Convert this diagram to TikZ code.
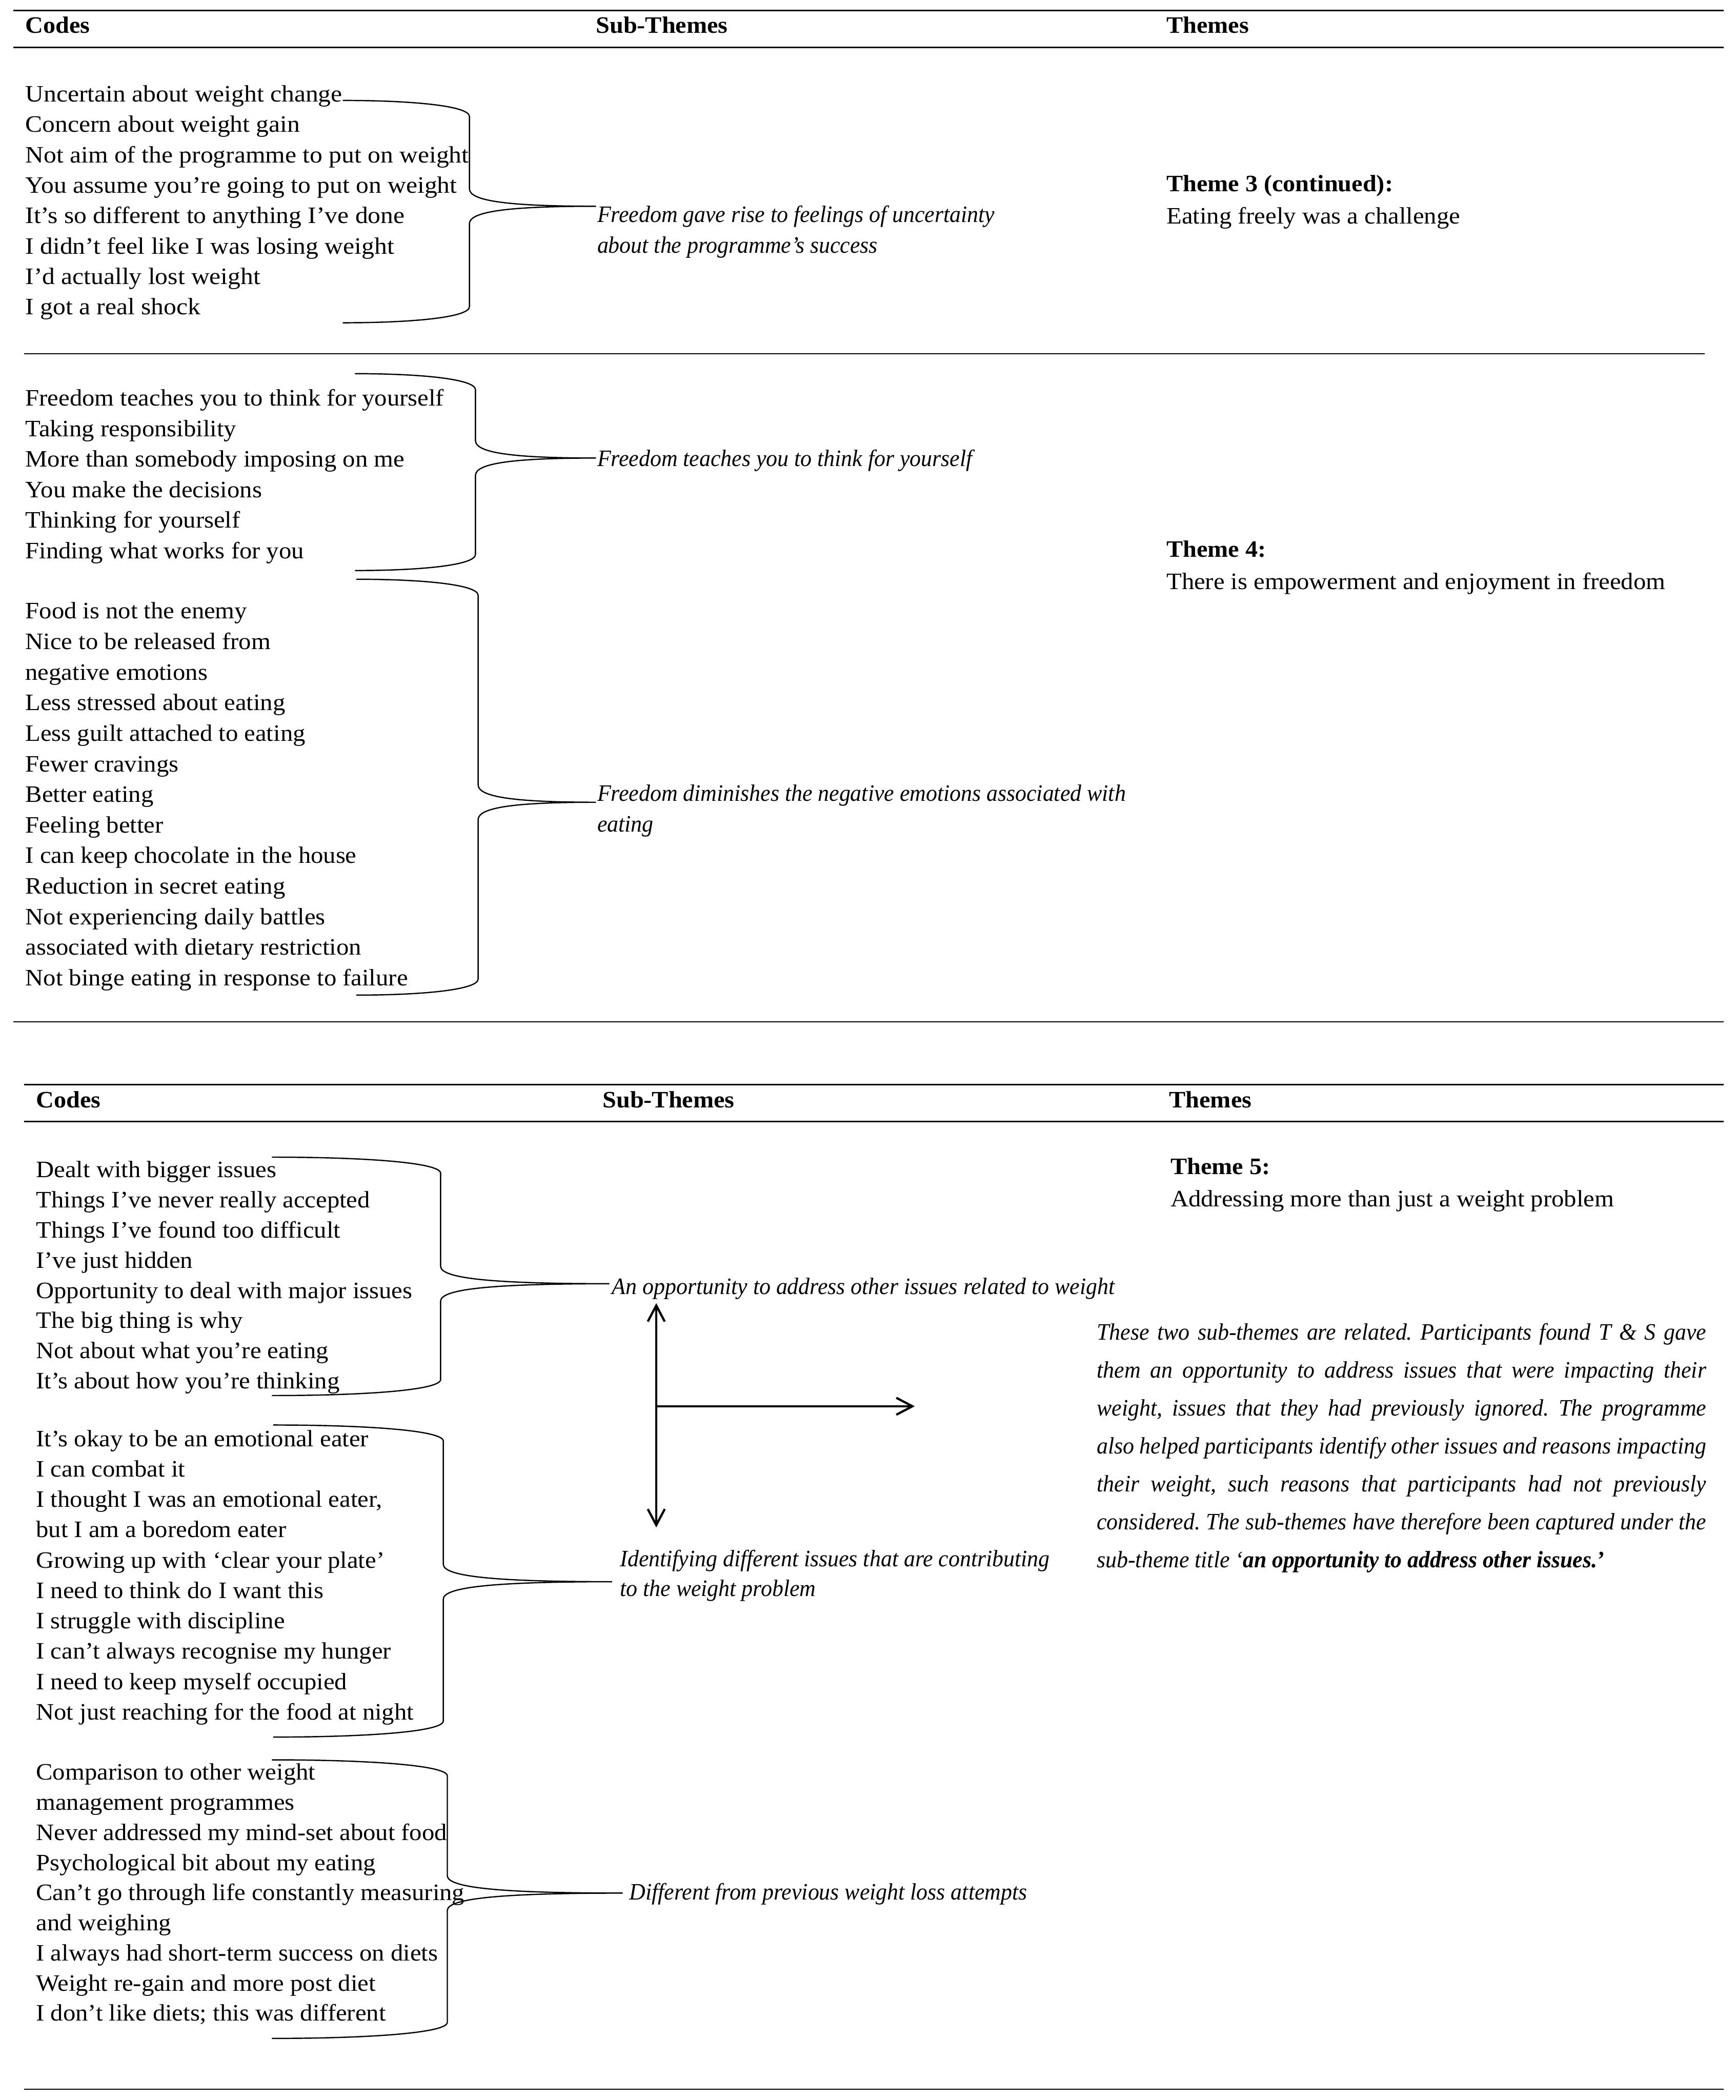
\documentclass[tikz,border=0pt]{standalone}
\usepackage{fontspec}
\setmainfont{Liberation Serif}[
  UprightFeatures={FakeStretch=1.06},
  BoldFeatures={FakeStretch=1.05},
  ItalicFeatures={FakeStretch=0.955},
  BoldItalicFeatures={FakeStretch=0.95}]
\newfontfamily\wideserif{Liberation Serif}[FakeStretch=1.08]
\frenchspacing
\usetikzlibrary{arrows.meta}
\tikzset{
  txt/.style={anchor=base west, inner sep=0pt, outer sep=0pt, font=\fontsize{15}{18}\selectfont},
  code/.style={txt},
  codewide/.style={txt, font=\fontsize{15}{18}\selectfont\wideserif},
  sub/.style={txt, font=\fontsize{15}{18}\selectfont\itshape},
  thm/.style={txt},
  thmb/.style={txt, font=\fontsize{15}{18}\selectfont\bfseries},
  hdr/.style={txt, font=\fontsize{15}{18}\selectfont\bfseries},
  para/.style={txt, font=\fontsize{15}{18}\selectfont\itshape},
  thickrule/.style={line width=1.0pt},
  thinrule/.style={line width=0.7pt},
  bracestyle/.style={line width=0.8pt},
  arr/.style={line width=1.4pt, -{Straight Barb[length=0.36cm,width=0.38cm]}},
  darr/.style={line width=1.4pt, {Straight Barb[length=0.36cm,width=0.38cm]}-{Straight Barb[length=0.36cm,width=0.38cm]}}
}
% #1 name, #2 x0, #3 ytop, #4 xv, #5 xtip, #6 ytip, #7 ybot
\newcommand\cbrace[7]{%
  \coordinate (#1top) at (#2,#3);
  \coordinate (#1tip) at (#5,#6);
  \coordinate (#1bot) at (#2,#7);
  \draw[bracestyle] (#1top)
    .. controls ({#2+0.55*(#4-#2)},#3) and (#4,{#3+4}) .. (#4,{#3+12})
    -- (#4,{#6-13})
    .. controls (#4,{#6-4}) and ({#4+0.3*(#5-#4)},#6) .. (#1tip)
    .. controls ({#4+0.3*(#5-#4)},#6) and (#4,{#6+4}) .. (#4,{#6+13})
    -- (#4,{#7-12})
    .. controls (#4,{#7-4}) and ({#2+0.55*(#4-#2)},#7) .. (#1bot);
}
\begin{document}
\begin{tikzpicture}[x=0.03cm,y=-0.03cm]
\useasboundingbox (0,0) rectangle (1296,1568);

% ---------- table 1 ----------
\draw[thickrule] (10,8) -- (1287,8);
\node[hdr] (h1a) at (19,24.5) {Codes};
\node[hdr] (h1b) at (445,24.5) {Sub-Themes};
\node[hdr] (h1c) at (871,24.5) {Themes};
\draw[thickrule] (10,35.5) -- (1287,35.5);

\foreach \t [count=\i from 0] in {Uncertain about weight change,
  Concern about weight gain,
  Not aim of the programme to put on weight,
  You assume you’re going to put on weight,
  It’s so different to anything I’ve done,
  I didn’t feel like I was losing weight,
  I’d actually lost weight,
  I got a real shock}
  \node[codewide] (la\i) at (19,{76+\i*22.7}) {\t};

\cbrace{ba}{256}{75}{350.5}{445}{154}{241}
\node[sub] (sa1) at (446,166) {Freedom gave rise to feelings of uncertainty};
\node[sub] (sa2) at (446,189) {about the programme’s success};

\node[thmb] (ta1) at (871,143) {Theme 3 (continued):};
\node[thm] (ta2) at (871,167) {Eating freely was a challenge};

\draw[thinrule] (18,264) -- (1273,264);

\foreach \t [count=\i from 0] in {Freedom teaches you to think for yourself,
  Taking responsibility,
  More than somebody imposing on me,
  You make the decisions,
  Thinking for yourself,
  Finding what works for you}
  \node[code] (lb\i) at (19,{303+\i*22.8}) {\t};

\cbrace{bb}{265}{279}{355}{445}{342}{426}
\node[sub] (sb1) at (446,348) {Freedom teaches you to think for yourself};

\foreach \t [count=\i from 0] in {Food is not the enemy,
  Nice to be released from,
  negative emotions,
  Less stressed about eating,
  Less guilt attached to eating,
  Fewer cravings,
  Better eating,
  Feeling better,
  I can keep chocolate in the house,
  Reduction in secret eating,
  Not experiencing daily battles,
  associated with dietary restriction,
  Not binge eating in response to failure}
  \node[code] (lc\i) at (19,{462+\i*22.83}) {\t};

\cbrace{bc}{266}{432.5}{357}{445}{599}{743}
\node[sub] (sc1) at (446,598) {Freedom diminishes the negative emotions associated with};
\node[sub] (sc2) at (446,621) {eating};

\node[thmb] (tb1) at (871,416) {Theme 4:};
\node[thm] (tb2) at (871,440) {There is empowerment and enjoyment in freedom};

\draw[thinrule] (10,763) -- (1287,763);

% ---------- table 2 ----------
\draw[thickrule] (18,810) -- (1287,810);
\node[hdr] (h2a) at (27,827) {Codes};
\node[hdr] (h2b) at (450,827) {Sub-Themes};
\node[hdr] (h2c) at (873,827) {Themes};
\draw[thickrule] (18,837.5) -- (1287,837.5);

\foreach \t [count=\i from 0] in {Dealt with bigger issues,
  Things I’ve never really accepted,
  Things I’ve found too difficult,
  I’ve just hidden,
  Opportunity to deal with major issues,
  The big thing is why,
  Not about what you’re eating,
  It’s about how you’re thinking}
  \node[code] (ld\i) at (27,{879+\i*22.57}) {\t};

\cbrace{bd}{203}{864}{329}{455}{958.5}{1042}
\node[sub] (sd1) at (457,966.5) {An opportunity to address other issues related to weight};

\node[thmb] (tc1) at (874,877) {Theme 5:};
\node[thm] (tc2) at (874,901) {Addressing more than just a weight problem};

\foreach \t [count=\i from 0] in {It’s okay to be an emotional eater,
  I can combat it,
  {I thought I was an emotional eater,},
  but I am a boredom eater,
  Growing up with ‘clear your plate’,
  I need to think do I want this,
  I struggle with discipline,
  I can’t always recognise my hunger,
  I need to keep myself occupied,
  Not just reaching for the food at night}
  \node[code] (le\i) at (27,{1080+\i*22.67}) {\t};

\cbrace{be}{204}{1064}{331}{457}{1181}{1297}
\node[sub] (se1) at (463,1169.5) {Identifying different issues that are contributing};
\node[sub] (se2) at (463,1192) {to the weight problem};

\foreach \t [count=\i from 0] in {Comparison to other weight,
  management programmes,
  Never addressed my mind-set about food,
  Psychological bit about my eating,
  Can’t go through life constantly measuring,
  and weighing,
  I always had short-term success on diets,
  Weight re-gain and more post diet,
  I don’t like diets; this was different}
  \node[code] (lf\i) at (27,{1329+\i*22.5}) {\t};

\cbrace{bf}{203}{1314}{334}{465}{1413.5}{1522}
\node[sub] (sf1) at (470,1418.5) {Different from previous weight loss attempts};

% arrows
\coordinate (vtop) at (490,973);
\coordinate (vbot) at (490,1140.5);
\coordinate (hmid) at (490,1050);
\coordinate (hend) at (683,1050);
\draw[darr] (vtop) -- (vbot);
\draw[arr] (hmid) -- (hend);

% paragraph
\foreach \t [count=\i from 0] in {
  {These two sub-themes are related. Participants found T \& S gave},
  {them an opportunity to address issues that were impacting their},
  {weight, issues that they had previously ignored. The programme},
  {also helped participants identify other issues and reasons impacting},
  {their weight, such reasons that participants had not previously},
  {considered. The sub-themes have therefore been captured under the}}
  \node[para] (p\i) at (819,{1000.5+\i*28.33}) {\makebox[13.65cm][s]{\t}};
\node[para] (p6) at (819,1170.5) {sub-theme title ‘\textbf{an opportunity to address other issues.’}};

\draw[thinrule] (18,1560) -- (1287,1560);
\end{tikzpicture}
\end{document}
